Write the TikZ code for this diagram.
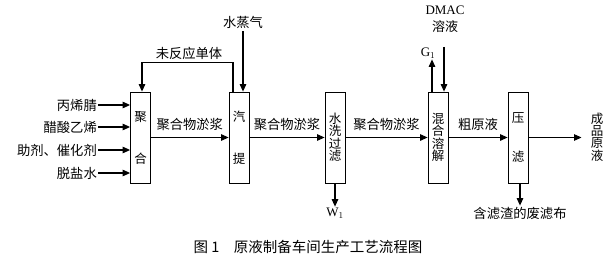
\documentclass[tikz,border=0pt]{standalone}
\usepackage{fontspec}
\setmainfont{Liberation Serif}
\newfontfamily\cjk{Noto Sans CJK SC}
\usetikzlibrary{arrows.meta, positioning, calc}

\tikzset{
  unit/.style={draw, line width=0.8pt, minimum width=20pt, minimum height=91pt,
               inner sep=0pt, align=center, font=\cjk\fontsize{12.5}{12.5}\selectfont},
  flow/.style={line width=1.1pt, -{Triangle[length=7.5pt, width=6.5pt]}},
  lbl/.style={font=\cjk\fontsize{13.3}{14}\selectfont, inner sep=1pt},
}

\begin{document}
\begin{tikzpicture}[x=1pt, y=-1pt]
\useasboundingbox (0,0) rectangle (612,265);

% ===== process units =====
\node[unit] (poly)  at (140.5,137.5) {聚\\[29.5pt]合};
\node[unit] (strip) at (239,137.5)   {汽\\[29.5pt]提};
\node[unit] (wash)  at (335,137.5)   {水\\洗\\过\\滤};
\node[unit] (mix)   at (438,137.5)   {混\\合\\溶\\解};
\node[unit] (press) at (518,137.5)   {压\\[27pt]滤};

% ===== raw materials =====
\foreach \n/\y/\t in {in1/105/丙烯腈, in2/127/醋酸乙烯, in3/150/助剂、催化剂, in4/173/脱盐水} {
  \node[lbl, anchor=east] (\n) at (98,\y) {\t};
  \draw[flow] (\n.east) -- (\n.east -| poly.west);
}

% ===== recycle and steam =====
\draw[flow] ([xshift=-6pt]strip.north) -- ++(0,-29) -| ([xshift=1.5pt]poly.north);
\node[lbl] (mono) at (189,53) {未反应单体};
\node[lbl] (steam) at (243,22) {水蒸气};
\draw[flow, shorten <=2pt] (steam.south) -- (steam.south |- strip.north);

% ===== main line =====
\draw[flow] (poly.east) -- node[lbl, above=5pt] {聚合物淤浆} (strip.west);
\draw[flow] (strip.east) -- node[lbl, above=5pt] {聚合物淤浆} (wash.west);
\draw[flow] (wash.east) -- node[lbl, above=5pt] {聚合物淤浆} (mix.west);
\draw[flow] (mix.east) -- node[lbl, above=5pt] {粗原液} (press.west);

\node[lbl, align=center, font=\cjk\fontsize{12.5}{12.3}\selectfont] (prod) at (597,137) {成\\品\\原\\液};
\draw[flow, shorten >=8pt] (press.east) -- (press.east -| prod.west);

% ===== side streams =====
\node[font=\rmfamily\fontsize{13}{14}\selectfont, inner sep=1pt] (w1) at (335,213) {W$_1$};
\draw[flow] (wash.south) -- (w1.north);

\node[font=\rmfamily\fontsize{13}{14}\selectfont, inner sep=1pt] (g1) at (428,53) {G$_1$};
\draw[flow] ([xshift=-6pt]mix.north) -- ([xshift=-6pt]mix.north |- g1.south);

\node[align=center, inner sep=1pt, font=\fontsize{13}{17.5}\selectfont] (dmac) at (445,19) {DMAC\\{\cjk 溶液}};
\draw[flow, shorten <=13pt] ([xshift=6pt]mix.north |- dmac.south) -- ([xshift=6pt]mix.north);

\node[lbl] (cloth) at (520,213) {含滤渣的废滤布};
\draw[flow] ([xshift=2pt]press.south) -- ([xshift=2pt]press.south |- cloth.north);

% ===== caption =====
\node[font=\cjk\fontsize{14.5}{15}\selectfont] (cap) at (308,247) {图 1\quad 原液制备车间生产工艺流程图};

\end{tikzpicture}
\end{document}
